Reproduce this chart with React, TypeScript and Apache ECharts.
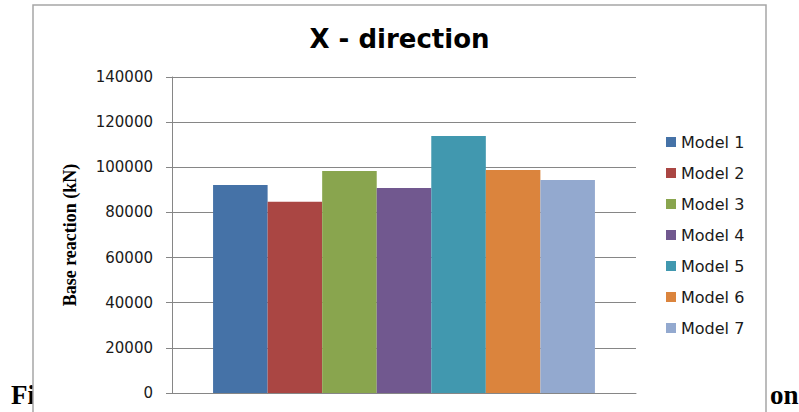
import React, { useEffect, useRef } from "react";
import * as echarts from "echarts";

const seriesNames = ["Model 1", "Model 2", "Model 3", "Model 4", "Model 5", "Model 6", "Model 7"];
const seriesValues = [92100, 84700, 98300, 90800, 113900, 98800, 94400];
const seriesColors = ["#4572A7", "#AA4643", "#89A54E", "#71588F", "#4198AF", "#DB843D", "#93A9CF"];
const categories = ["X - direction"];
const yTicks = { min: 0, max: 140000, interval: 20000 };

export default function App() {
  const ref = useRef<HTMLDivElement>(null);
  useEffect(() => {
    if (!ref.current) return;
    const chart = echarts.init(ref.current, null, { renderer: "svg" });
    chart.setOption({
      animation: false,
      backgroundColor: "#ffffff",
      title: {
        text: "X - direction",
        left: "center",
        top: 21,
        textStyle: { fontFamily: "DejaVu Sans", fontWeight: "bold", fontSize: 26, color: "#000" },
      },
      graphic: [
        {
          type: "text",
          left: 11,
          top: 381,
          z: -10,
          style: { text: "Fi", font: "bold 27px 'Liberation Serif'", fill: "#000" },
        },
        {
          type: "text",
          left: 770,
          top: 381,
          z: -10,
          style: { text: "on", font: "bold 27px 'Liberation Serif'", fill: "#000" },
        },
        {
          type: "rect",
          z: -5,
          shape: { x: 33, y: 5, width: 733, height: 430 },
          style: { fill: "#ffffff", stroke: "#a6a6a6", lineWidth: 1.5 },
        },
      ],
      legend: {
        orient: "vertical",
        left: 666,
        top: 134,
        padding: 0,
        itemWidth: 10,
        itemHeight: 10,
        itemGap: 15,
        icon: "rect",
        textStyle: { fontFamily: "DejaVu Sans", fontSize: 16, color: "#1a1a1a" },
        data: seriesNames,
      },
      grid: { left: 172, right: 163, top: 77, bottom: 19, containLabel: false },
      xAxis: {
        type: "category",
        data: categories,
        axisLabel: { show: false },
        axisTick: { show: false },
        axisLine: { lineStyle: { color: "#868686", width: 1 } },
      },
      yAxis: {
        type: "value",
        min: yTicks.min,
        max: yTicks.max,
        interval: yTicks.interval,
        name: "Base reaction (kN)",
        nameLocation: "middle",
        nameRotate: 90,
        nameGap: 93,
        nameTextStyle: { fontFamily: "Liberation Serif", fontWeight: "bold", fontSize: 18, color: "#000" },
        axisLine: { show: true, lineStyle: { color: "#868686", width: 1 } },
        axisTick: { show: true, length: 6, lineStyle: { color: "#868686" } },
        axisLabel: {
          fontFamily: "DejaVu Sans",
          fontSize: 15,
          color: "#1a1a1a",
          margin: 19,
          formatter: (v: number) => String(v),
        },
        splitLine: { lineStyle: { color: "#868686", width: 1 } },
      },
      series: seriesNames.map((name, i) => ({
        name,
        type: "bar",
        data: [seriesValues[i]],
        barGap: "0%",
        barCategoryGap: "17.7%",
        itemStyle: { color: seriesColors[i] },
      })),
    });
    return () => chart.dispose();
  }, []);
  return (
    <div
      ref={ref}
      style={{ position: "absolute", left: 0, top: 0, width: 799, height: 412, background: "#fff" }}
    />
  );
}
